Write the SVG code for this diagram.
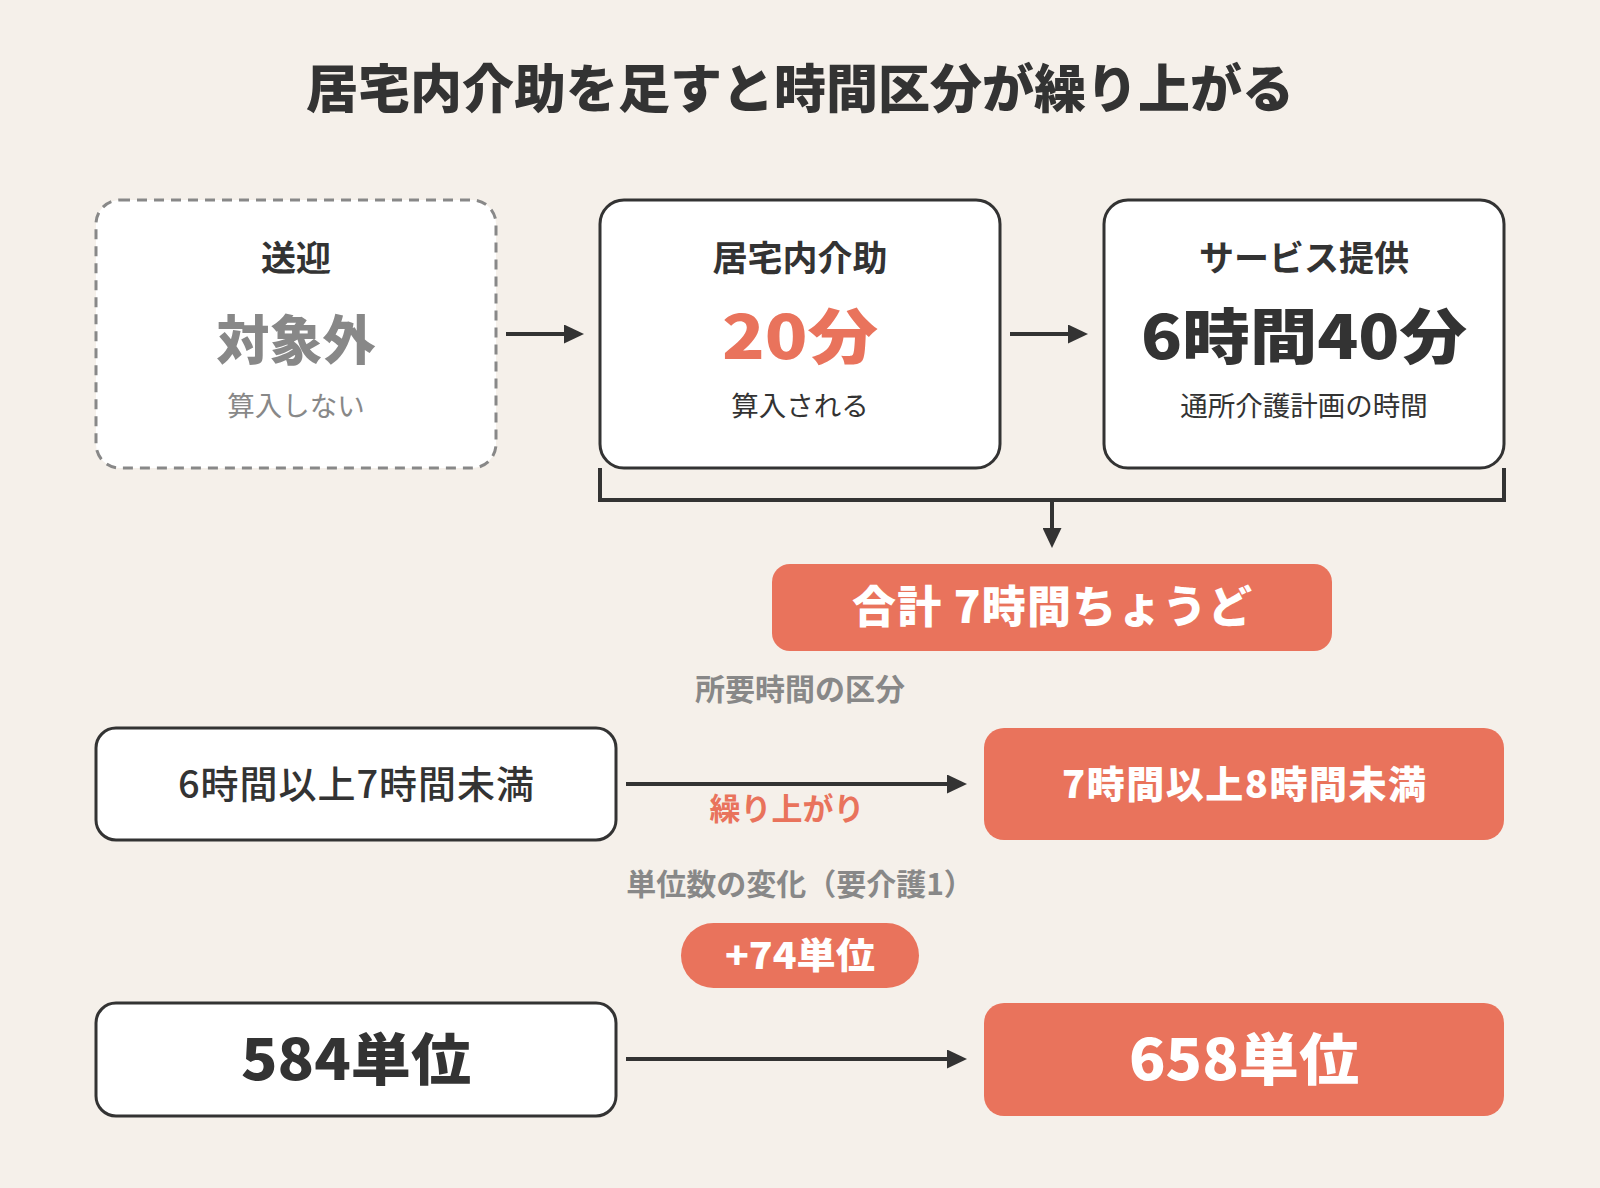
<svg xmlns="http://www.w3.org/2000/svg" width="1600" height="1188" viewBox="0 0 1600 1188">
<defs>
<style>
text{font-family:"Noto Sans CJK JP","Noto Sans",sans-serif;text-anchor:middle}
.box{fill:#ffffff;stroke:#333333;stroke-width:3}
.dash{fill:#ffffff;stroke:#888888;stroke-width:3;stroke-dasharray:10 7}
.hot{fill:#E9735C}
.con{stroke:#333333;stroke-width:4;fill:none}
.dark{fill:#333333}
.gray{fill:#888888}
.white{fill:#ffffff}
.orange{fill:#E9735C}
.heavy{font-weight:900}
.bold{font-weight:700}
.med{font-weight:500}
.reg{font-weight:400}
</style>
<marker id="ah" markerUnits="userSpaceOnUse" markerWidth="20" markerHeight="19" refX="0" refY="9.5" orient="auto">
<path d="M0,0 L20,9.5 L0,19 Z" fill="#333333"/>
</marker>
</defs>
<rect width="1600" height="1188" fill="#F5F0EA"/>
<text id="title" x="800" y="108" class="dark heavy" font-size="52">居宅内介助を足すと時間区分が繰り上がる</text>

<g id="node-transport">
<rect class="dash" x="96" y="200" width="400" height="268" rx="24"/>
<text x="296" y="271" class="dark bold" font-size="35">送迎</text>
<text x="296" y="360" class="gray heavy" font-size="53">対象外</text>
<text x="296" y="416" class="gray reg" font-size="27.5">算入しない</text>
</g>
<g id="node-homecare">
<rect class="box" x="600" y="200" width="400" height="268" rx="24"/>
<text x="800" y="271" class="dark bold" font-size="35">居宅内介助</text>
<text x="800" y="359" class="orange heavy" font-size="60" textLength="156" lengthAdjust="spacingAndGlyphs">20分</text>
<text x="800" y="416" class="dark reg" font-size="27.5">算入される</text>
</g>
<g id="node-service">
<rect class="box" x="1104" y="200" width="400" height="268" rx="24"/>
<text x="1304" y="271" class="dark bold" font-size="35">サービス提供</text>
<text x="1304" y="359" class="dark heavy" font-size="60" textLength="326" lengthAdjust="spacingAndGlyphs">6時間40分</text>
<text x="1304" y="416" class="dark reg" font-size="27.5">通所介護計画の時間</text>
</g>
<g id="node-total">
<rect class="hot" x="772" y="564" width="560" height="87" rx="18"/>
<text x="1052" y="623" class="white heavy" font-size="44" textLength="400" lengthAdjust="spacing">合計 7時間ちょうど</text>
</g>
<text id="label-kubun" x="800" y="700" class="gray bold" font-size="30">所要時間の区分</text>
<g id="node-before-class">
<rect class="box" x="96" y="728" width="520" height="112" rx="20"/>
<text x="356" y="798" class="dark med" font-size="38" textLength="356" lengthAdjust="spacing">6時間以上7時間未満</text>
</g>
<g id="node-after-class">
<rect class="hot" x="984" y="728" width="520" height="112" rx="20"/>
<text x="1244" y="798" class="white heavy" font-size="38" textLength="364" lengthAdjust="spacing">7時間以上8時間未満</text>
</g>
<text id="label-up" x="787" y="820" class="orange bold" font-size="31">繰り上がり</text>
<text id="label-units" x="800" y="895" class="gray bold" font-size="30">単位数の変化（要介護1）</text>
<g id="node-diff">
<rect class="hot" x="681" y="923" width="238" height="65" rx="32.5"/>
<text x="800" y="969" class="white heavy" font-size="36" textLength="150" lengthAdjust="spacingAndGlyphs">+74単位</text>
</g>
<g id="node-before-units">
<rect class="box" x="96" y="1003" width="520" height="113" rx="20"/>
<text x="356" y="1080" class="dark heavy" font-size="56" textLength="230" lengthAdjust="spacingAndGlyphs">584単位</text>
</g>
<g id="node-after-units">
<rect class="hot" x="984" y="1003" width="520" height="113" rx="20"/>
<text x="1244" y="1080" class="white heavy" font-size="56" textLength="230" lengthAdjust="spacingAndGlyphs">658単位</text>
</g>

<g id="connectors">
<line class="con" x1="506" y1="334" x2="564" y2="334" marker-end="url(#ah)"/>
<line class="con" x1="1010" y1="334" x2="1068" y2="334" marker-end="url(#ah)"/>
<path class="con" d="M600,468 V500 H1504 V468" stroke-width="3.5"/>
<line class="con" x1="1052" y1="500" x2="1052" y2="528" marker-end="url(#ah)"/>
<line class="con" x1="626" y1="784" x2="947" y2="784" marker-end="url(#ah)"/>
<line class="con" x1="626" y1="1059" x2="947" y2="1059" marker-end="url(#ah)"/>
</g>
</svg>
